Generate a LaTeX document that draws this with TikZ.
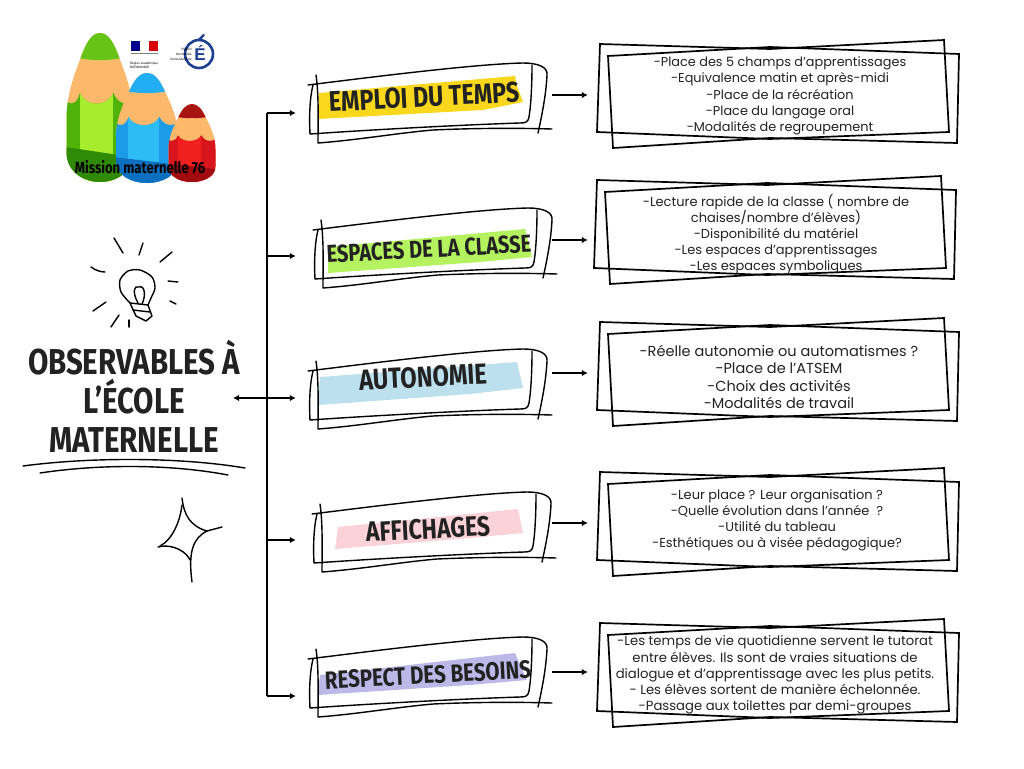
\documentclass[tikz,border=0pt]{standalone}
\usepackage{fontspec}
\usepackage{tikz}
\usetikzlibrary{arrows.meta}
\newfontfamily\bodyfont{Poppins}
\newfontfamily\handfont[FakeStretch=0.82]{Fira Sans}
\newfontfamily\tinyfont{Liberation Sans}

\definecolor{inkcol}{HTML}{222222}
\definecolor{woodcol}{HTML}{FDB96B}
\definecolor{edublue}{HTML}{1D3F8F}
\definecolor{bandyellow}{HTML}{F9D71C}
\definecolor{bandgreen}{HTML}{B4F25F}
\definecolor{bandblue}{HTML}{BCE0EE}
\definecolor{bandpink}{HTML}{FAD2D8}
\definecolor{bandlilac}{HTML}{BDB8E8}
\definecolor{greentip}{HTML}{66C416}
\definecolor{greenbody}{HTML}{4FB30A}
\definecolor{greenlight}{HTML}{A6EE2D}
\definecolor{greendark}{HTML}{2F8A05}
\definecolor{bluetip}{HTML}{22AEF5}
\definecolor{bluebody}{HTML}{1C9BE8}
\definecolor{bluelight}{HTML}{2EBCF5}
\definecolor{bluedark}{HTML}{0D6FC0}
\definecolor{redtip}{HTML}{A81414}
\definecolor{redbody}{HTML}{D8141C}
\definecolor{redlight}{HTML}{F02020}
\definecolor{reddark}{HTML}{A00C10}

\newcommand\pencilpath{(0,0) .. controls (-14,0) and (-22,8) .. (-30,18) .. controls (-42,32) and (-50,44) .. (-50,58) -- (-50,80) .. controls (-50,93) and (-25,100) .. (0,100) .. controls (25,100) and (50,93) .. (50,80) -- (50,58) .. controls (50,44) and (42,32) .. (30,18) .. controls (22,8) and (14,0) .. (0,0)}
\newcommand\drawpencil[8]{
    \begin{scope}[shift={(#1,#2)},xscale=#3,yscale=#4]
        \clip \pencilpath;
        \fill[woodcol] (-60,-5) rectangle (60,105);
        \fill[#5] (-60,-5) -- (60,-5) -- (60,13) .. controls (20,20) and (-20,20) .. (-60,13) -- cycle;
        \begin{scope}
            \clip (-60,38) .. controls (-50,50) and (-35,50) .. (-30,40) .. controls (-22,50) and (12,50) .. (20,40) .. controls (28,50) and (50,50) .. (60,38) -- (60,105) -- (-60,105) -- cycle;
            \fill[#6] (-60,30) rectangle (60,105);
            \fill[#7] (-30,30) rectangle (20,105);
            \fill[#8] (-60,76) -- (60,84) -- (60,105) -- (-60,105) -- cycle;
        \end{scope}
    \end{scope}
}

\tikzset{
    flow/.style={line width=1.4pt, -{Latex[length=6pt,width=6.5pt]}},
    titlebox/.style={minimum width=256pt, minimum height=40pt, inner sep=0pt},
    titletext/.style={text=inkcol, rotate=3, inner sep=0pt, font=\handfont\bfseries\fontsize{#1}{#1}\selectfont},
    detailtext/.style n args={2}{text=inkcol, align=center, inner sep=0pt, font=\bodyfont\fontsize{#1}{#2}\selectfont},
    sketch/.style={line width=1.4pt, line cap=round, line join=round},
    titleframe/.pic={
        \draw[sketch] (0,0) .. controls (80,-10) and (170,-21) .. (215,-22) .. controls (230,-22) and (240,-18) .. (239,-10) .. controls (238,10) and (234,30) .. (230,48);
        \draw[sketch] (8,-10) .. controls (11,10) and (10,40) .. (10,58) .. controls (50,55) and (90,48) .. (125,45) .. controls (170,43) and (210,43) .. (244,44);
        \draw[sketch] (224,-20) .. controls (224,0) and (223,20) .. (221,32) .. controls (220,37) and (218,38) .. (212,38) .. controls (150,40) and (60,45) .. (2,49) .. controls (1,30) and (2,12) .. (5,0);
    },
    detailframe/.pic={
        \draw[line width=1.7pt] (-180,-51) -- (-10,-46) -- (164,-55) -- (169,37) -- (-10,44) -- (-183,37) -- cycle;
        \draw[line width=1.7pt] (-172,-39) -- (-10,-48) -- (179,-41) -- (177,48) -- (-10,43) -- (-167,53) -- cycle;
    },
}

\begin{document}
\begin{tikzpicture}[x=1pt, y=-1pt]
    \useasboundingbox (0,0) rectangle (1024,768);

    % logo
    \drawpencil{100}{33}{0.67}{1.49}{greentip}{greenbody}{greenlight}{greendark}
    \drawpencil{147}{73}{0.62}{1.10}{bluetip}{bluebody}{bluelight}{bluedark}
    \drawpencil{192}{104}{0.47}{0.78}{redtip}{redbody}{redlight}{reddark}
    \node[inner sep=0pt, font=\handfont\bfseries\fontsize{16}{16}\selectfont] (mission) at (140,167) {Mission maternelle 76};
    \fill[blue!55!black] (131,41) rectangle (140,51);
    \fill[red!85!black] (149,41) rectangle (158,51);
    \draw[gray, line width=1pt] (131,54) -- (158,54);
    \node[inner sep=0pt, align=left, font=\tinyfont\fontsize{3.2}{4}\selectfont] (region) at (144,65) {Région académique\\NORMANDIE};
    \draw[edublue, line width=2.6pt] (199,54) circle[radius=14];
    \fill[edublue] (197,40) -- (203,34) -- (205,35) -- (200,41) -- cycle;
    \node[inner sep=0pt, text=edublue, font=\tinyfont\bfseries\fontsize{17}{17}\selectfont] (eduletter) at (200,53) {É};
    \node[inner sep=0pt, align=right, font=\tinyfont\fontsize{3.2}{5}\selectfont] (academie) at (181,54) {Région\\Normandie\\Seine-Maritime};

    % bulb and rays
    \draw[sketch] (114,238) -- (123,253);
    \draw[sketch] (143,243) -- (139,255);
    \draw[sketch] (172,252) -- (160,262);
    \draw[sketch] (91,267) .. controls (95,270) and (100,272) .. (105,272);
    \draw[sketch] (168,281) -- (178,282);
    \draw[sketch] (170,301) -- (176,304);
    \draw[sketch] (93,311) -- (106,302);
    \draw[sketch] (111,327) -- (119,315);
    \draw[sketch] (129,320) -- (129,327);
    \draw[sketch] plot[smooth] coordinates {(130,303) (121,292) (120,280) (128,271) (140,270) (152,277) (155,288) (151,298) (148,305)};
    \draw[sketch] (130,303) -- (148,305) -- (152,316) -- (146,321) -- (136,316) -- cycle;
    \draw[sketch] (133,310) -- (150,312);
    \draw[sketch] (138,303) .. controls (132,292) and (134,285) .. (139,287) .. controls (145,285) and (146,296) .. (142,304);

    % main title
    \node[text=inkcol, align=center, inner sep=0pt, font=\handfont\bfseries\fontsize{36}{39}\selectfont] (obstitle) at (134,396) {OBSERVABLES À\\L’ÉCOLE\\MATERNELLE};
    \draw[sketch] (23,466) .. controls (90,457) and (180,457) .. (245,468);
    \draw[sketch] (40,473) .. controls (100,464) and (170,464) .. (228,475);
    \draw[sketch] (182,498) .. controls (184,515) and (190,526) .. (207,531) .. controls (193,538) and (188,552) .. (192,582);
    \draw[sketch] (222,527) -- (207,531);
    \draw[sketch] (158,547) .. controls (172,543) and (187,552) .. (190,560);
    \draw[sketch] (160,546) .. controls (172,540) and (180,522) .. (182,505);

    % coloured bands
    \fill[bandyellow] (319,93) -- (515,76) -- (517,86) -- (523,102) -- (483,110) -- (318,119) -- cycle;
    \fill[bandgreen] (328,247) -- (525,229) -- (532,257) -- (480,262) -- (328,273) -- cycle;
    \fill[bandblue] (320,377) -- (517,362) -- (523,388) -- (470,394) -- (318,405) -- cycle;
    \fill[bandpink] (338,527) -- (518,509) -- (523,533) -- (470,538) -- (335,549) -- cycle;
    \fill[bandlilac] (320,675) -- (515,653) -- (527,680) -- (470,685) -- (318,695) -- cycle;

    % sketched frames
    \pic at (308,85) {titleframe};
    \pic at (313,230) {titleframe};
    \pic at (308,371) {titleframe};
    \pic at (312,514) {titleframe};
    \pic at (308,659) {titleframe};

    \node[titlebox] (emploi) at (424,95) {};
    \node[titlebox] (espaces) at (424,240) {};
    \node[titlebox] (autonomie) at (424,373) {};
    \node[titlebox] (affichages) at (424,523) {};
    \node[titlebox] (besoins) at (424,672) {};

    \node[titletext=28.5] (emploilabel) at (424,97) {EMPLOI DU TEMPS};
    \node[titletext=24.5] (espaceslabel) at (429,249) {ESPACES DE LA CLASSE};
    \node[titletext=29] (autonomielabel) at (423,377) {AUTONOMIE};
    \node[titletext=28] (affichageslabel) at (428,529) {AFFICHAGES};
    \node[titletext=25] (besoinslabel) at (428,675) {RESPECT DES BESOINS};

    % detail boxes
    \pic at (780,95) {detailframe};
    \pic at (777,231) {detailframe};
    \pic at (780,373) {detailframe};
    \pic at (780,523) {detailframe};
    \pic at (780,674) {detailframe};

    \node[detailtext={12.85}{16.3}, minimum width=384pt] (emploidetail) at (780,96) {-Place des 5 champs d’apprentissages\\-Equivalence matin et après-midi\\-Place de la récréation\\-Place du langage oral\\-Modalités de regroupement};
    \node[detailtext={13}{16}, minimum width=376pt] (espacesdetail) at (776,234) {-Lecture rapide de la classe ( nombre de\\chaises/nombre d’élèves)\\-Disponibilité du matériel\\-Les espaces d’apprentissages\\-Les espaces symboliques};
    \node[detailtext={14.5}{17.3}, minimum width=382pt] (autonomiedetail) at (779,377) {-Réelle autonomie ou automatismes ?\\-Place de l’ATSEM\\-Choix des activités\\-Modalités de travail};
    \node[detailtext={13}{16}, minimum width=378pt] (affichagesdetail) at (777,520) {-Leur place ? Leur organisation ?\\-Quelle évolution dans l’année\ \ ?\\-Utilité du tableau\\-Esthétiques ou à visée pédagogique?};
    \node[detailtext={13.2}{16.2}, minimum width=374pt] (besoinsdetail) at (775,675) {-Les temps de vie quotidienne servent le tutorat\\entre élèves. Ils sont de vraies situations de\\dialogue et d’apprentissage avec les plus petits.\\- Les élèves sortent de manière échelonnée.\\-Passage aux toilettes par demi-groupes};

    % connectors
    \coordinate (trunka) at (267,113);
    \coordinate (trunkb) at (267,256);
    \coordinate (trunkc) at (233,398);
    \coordinate (trunkd) at (267,540);
    \coordinate (trunke) at (267,696);
    \draw[line width=1.4pt] (trunka) -- (trunke);
    \draw[flow] (trunka) -- (trunka -| emploi.west);
    \draw[flow] (trunkb) -- (trunkb -| espaces.west);
    \draw[flow, {Latex[length=6pt,width=6.5pt]}-{Latex[length=6pt,width=6.5pt]}] (trunkc) -- (trunkc -| autonomie.west);
    \draw[flow] (trunkd) -- (trunkd -| affichages.west);
    \draw[flow] (trunke) -- (trunke -| besoins.west);

    \draw[flow] (emploi.east) -- (emploi.east -| emploidetail.west);
    \draw[flow] (espaces.east) -- (espaces.east -| espacesdetail.west);
    \draw[flow] (autonomie.east) -- (autonomie.east -| autonomiedetail.west);
    \draw[flow] (affichages.east) -- (affichages.east -| affichagesdetail.west);
    \draw[flow] (besoins.east) -- (besoins.east -| besoinsdetail.west);
\end{tikzpicture}
\end{document}
